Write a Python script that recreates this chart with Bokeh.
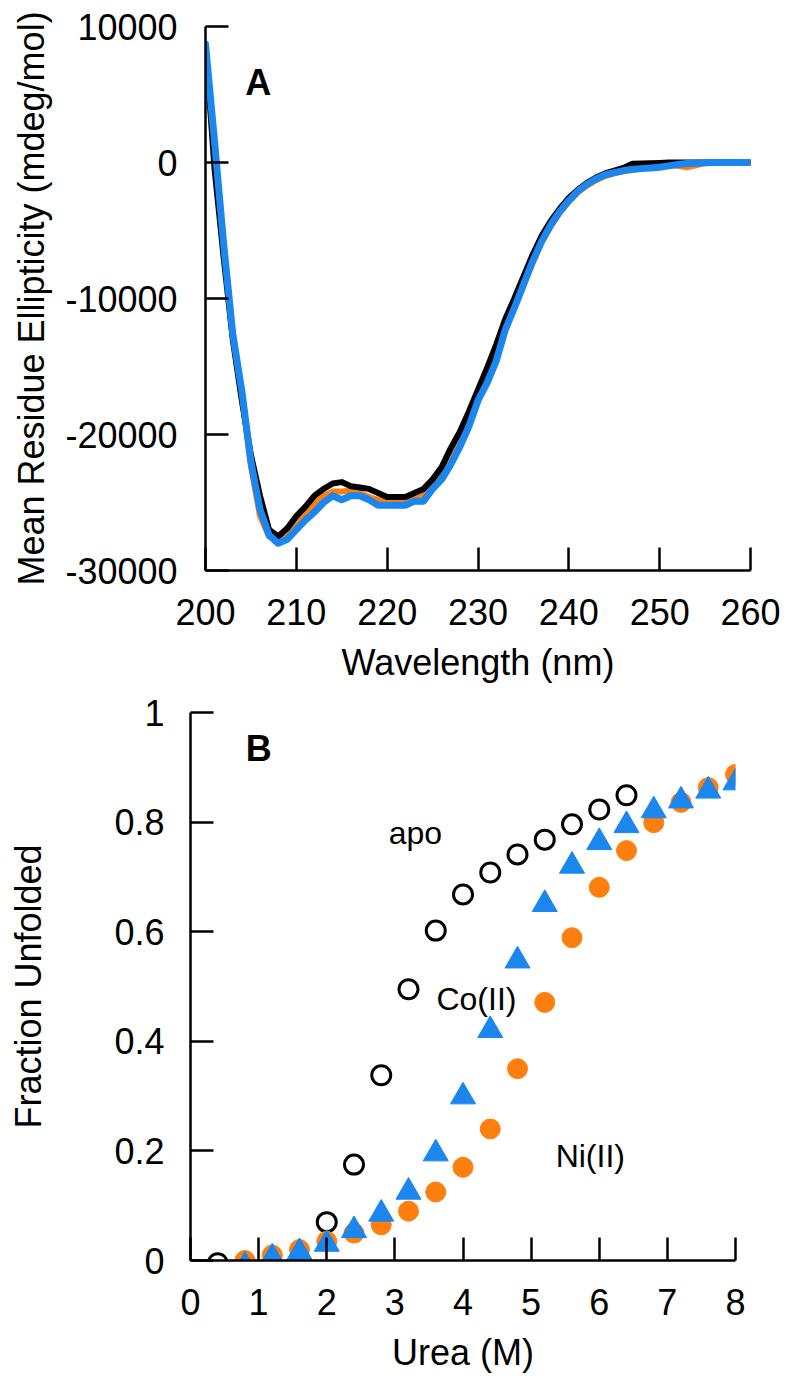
from bokeh.plotting import figure
from bokeh.models import Range1d, FixedTicker, CustomJSTickFormatter, Label, ColumnDataSource
from bokeh.embed import file_html
from bokeh.resources import INLINE

# ---------------- Panel A data (CD spectra) ----------------
wavelength = [200, 201, 202, 203, 204, 205, 206, 207, 208, 209,
              210, 211, 212, 213, 214, 215, 216, 217, 218, 219,
              220, 221, 222, 223, 224, 225, 226, 227, 228, 229,
              230, 231, 232, 233, 234, 235, 236, 237, 238, 239,
              240, 241, 242, 243, 244, 245, 246, 247, 248, 249,
              250, 251, 252, 253, 254, 255, 256, 257, 258, 259, 260]

mre_apo = [8700, -500, -7000, -13000, -17500, -21500, -24500, -27000, -27500, -26900,
           -26000, -25300, -24500, -24000, -23600, -23500, -23800, -23900, -24000, -24300,
           -24600, -24600, -24600, -24300, -24000, -23300, -22400, -21000, -19800, -18300,
           -16700, -15100, -13400, -11500, -10000, -8400, -6800, -5400, -4300, -3400,
           -2600, -2000, -1500, -1100, -800, -600, -400, -100, -80, -50,
           -30, 0, 0, 0, 0, 0, 0, 0, 0, 0, 0]

mre_ni = [8700, 500, -6000, -12800, -17200, -22300, -26000, -27500, -27800, -27300,
          -26600, -25800, -25100, -24500, -24200, -24200, -24100, -24300, -24600, -24800,
          -24900, -24900, -24900, -24700, -24500, -23800, -23000, -21800, -20600, -19000,
          -17300, -15800, -14200, -12200, -10600, -9000, -7400, -5900, -4700, -3700,
          -2900, -2200, -1700, -1300, -1000, -800, -650, -550, -450, -300,
          -200, -150, -250, -350, -200, -50, 0, 0, 0, 0, 0]

mre_co = [8700, 1500, -6000, -12600, -16800, -22000, -25500, -27400, -28000, -27700,
          -27000, -26300, -25700, -25000, -24500, -24800, -24500, -24500, -24800, -25200,
          -25200, -25200, -25200, -24900, -24900, -24000, -23300, -22200, -20900, -19400,
          -17500, -16200, -14600, -12300, -10700, -9000, -7300, -5800, -4600, -3600,
          -2800, -2100, -1600, -1200, -900, -750, -600, -500, -450, -400,
          -350, -250, -150, -80, -50, -20, 0, 0, 0, 0, 0]

a_xticks = [200, 210, 220, 230, 240, 250, 260]
a_yticks = [-30000, -20000, -10000, 0, 10000]

# ---------------- Panel B data (urea denaturation) ----------------
urea_apo = [0.4, 2.0, 2.4, 2.8, 3.2, 3.6, 4.0, 4.4, 4.8, 5.2, 5.6, 6.0, 6.4]
frac_apo = [-0.005, 0.07, 0.175, 0.338, 0.495, 0.602, 0.668, 0.708, 0.741, 0.768, 0.796, 0.823, 0.849]

urea_ni = [0.8, 1.2, 1.6, 2.0, 2.4, 2.8, 3.2, 3.6, 4.0, 4.4, 4.8, 5.2, 5.6, 6.0, 6.4, 6.8, 7.2, 7.6, 8.0]
frac_ni = [0.0, 0.01, 0.02, 0.035, 0.05, 0.065, 0.09, 0.125, 0.17, 0.24, 0.35, 0.471, 0.589, 0.681,
           0.748, 0.799, 0.836, 0.863, 0.887]

urea_co = [0.8, 1.2, 1.6, 2.0, 2.4, 2.8, 3.2, 3.6, 4.0, 4.4, 4.8, 5.2, 5.6, 6.0, 6.4, 6.8, 7.2, 7.6, 8.0]
frac_co = [-0.01, 0.005, 0.015, 0.03, 0.055, 0.085, 0.125, 0.195, 0.299, 0.42, 0.547, 0.65, 0.72, 0.763,
           0.794, 0.821, 0.839, 0.857, 0.872]

b_xticks = [0, 1, 2, 3, 4, 5, 6, 7, 8]
b_yticks = [0, 0.2, 0.4, 0.6, 0.8, 1]

FONT = "Liberation Sans"
BLACK = "#000000"
ORANGE = "#FF7F0E"
BLUE = "#1A86EE"


def style_axes(p, x_standoff, y_standoff, x_title_standoff, y_title_standoff):
    p.grid.visible = False
    p.outline_line_color = None
    p.background_fill_color = "white"
    p.border_fill_color = "white"
    for ax in [p.xaxis[0], p.yaxis[0]]:
        ax.axis_line_width = 2.5
        ax.axis_line_color = BLACK
        ax.major_tick_line_width = 2.5
        ax.major_tick_line_color = BLACK
        ax.major_tick_in = 23
        ax.major_tick_out = 0
        ax.minor_tick_line_color = None
        ax.major_label_text_font = FONT
        ax.major_label_text_font_size = "36px"
        ax.major_label_text_color = BLACK
        ax.axis_label_text_font = FONT
        ax.axis_label_text_font_size = "36px"
        ax.axis_label_text_font_style = "normal"
        ax.axis_label_text_color = BLACK
    p.xaxis[0].major_label_standoff = x_standoff
    p.yaxis[0].major_label_standoff = y_standoff
    p.xaxis[0].axis_label_standoff = x_title_standoff
    p.yaxis[0].axis_label_standoff = y_title_standoff


# ---------------- Panel A ----------------
pA = figure(frame_width=545, frame_height=544,
            x_range=Range1d(200, 260), y_range=Range1d(-30000, 10000),
            output_backend="svg", toolbar_location=None,
            min_border_left=205, min_border_top=26, min_border_right=32, min_border_bottom=122)
pA.xaxis.axis_label = "Wavelength (nm)"
pA.yaxis.axis_label = "Mean Residue Ellipticity (mdeg/mol)"
pA.xaxis.ticker = FixedTicker(ticks=a_xticks)
pA.yaxis.ticker = FixedTicker(ticks=a_yticks)
pA.xaxis.formatter = CustomJSTickFormatter(code="return tick.toFixed(0);")
pA.yaxis.formatter = CustomJSTickFormatter(code="return tick.toFixed(0);")
style_axes(pA, 28, 28, 14, 10)

srcA = ColumnDataSource(dict(wl=wavelength, apo=mre_apo, ni=mre_ni, co=mre_co))
pA.line("wl", "ni", source=srcA, line_color=ORANGE, line_width=6, line_join="round", line_cap="round")
pA.line("wl", "apo", source=srcA, line_color=BLACK, line_width=6, line_join="round", line_cap="round")
pA.line("wl", "co", source=srcA, line_color=BLUE, line_width=7, line_join="round", line_cap="round")

pA.add_layout(Label(x=205.8, y=5880, text="A", text_font=FONT, text_font_size="36px",
                    text_font_style="bold", text_align="center", text_baseline="middle",
                    text_color=BLACK))

# ---------------- Panel B ----------------
pB = figure(frame_width=545, frame_height=548,
            x_range=Range1d(0, 8), y_range=Range1d(0, 1),
            output_backend="svg", toolbar_location=None,
            min_border_left=190, min_border_top=20, min_border_right=47, min_border_bottom=118)
pB.xaxis.axis_label = "Urea (M)"
pB.yaxis.axis_label = "Fraction Unfolded"
pB.xaxis.ticker = FixedTicker(ticks=b_xticks)
pB.yaxis.ticker = FixedTicker(ticks=b_yticks)
pB.xaxis.formatter = CustomJSTickFormatter(code="return String(Math.round(tick*10)/10);")
pB.yaxis.formatter = CustomJSTickFormatter(code="return String(Math.round(tick*10)/10);")
style_axes(pB, 28, 26, 14, 62)

pB.scatter(urea_apo, frac_apo, marker="circle", size=19, fill_color=None,
           line_color=BLACK, line_width=3)
pB.scatter(urea_ni, frac_ni, marker="circle", size=20, fill_color=ORANGE,
           line_color=ORANGE, line_width=1)
pB.scatter(urea_co, frac_co, marker="triangle", size=25, fill_color=BLUE,
           line_color=BLUE, line_width=1)

pB.add_layout(Label(x=1.0, y=0.935, text="B", text_font=FONT, text_font_size="36px",
                    text_font_style="bold", text_align="center", text_baseline="middle",
                    text_color=BLACK))
for txt, xx, yy in [("apo", 2.91, 0.781), ("Co(II)", 3.61, 0.477), ("Ni(II)", 5.36, 0.19)]:
    pB.add_layout(Label(x=xx, y=yy, text=txt, text_font=FONT, text_font_size="32px",
                        text_align="left", text_baseline="alphabetic", text_color=BLACK))

# two independent roots (no frame alignment between the panels)
open("out.html", "w").write(file_html([pA, pB], INLINE))
